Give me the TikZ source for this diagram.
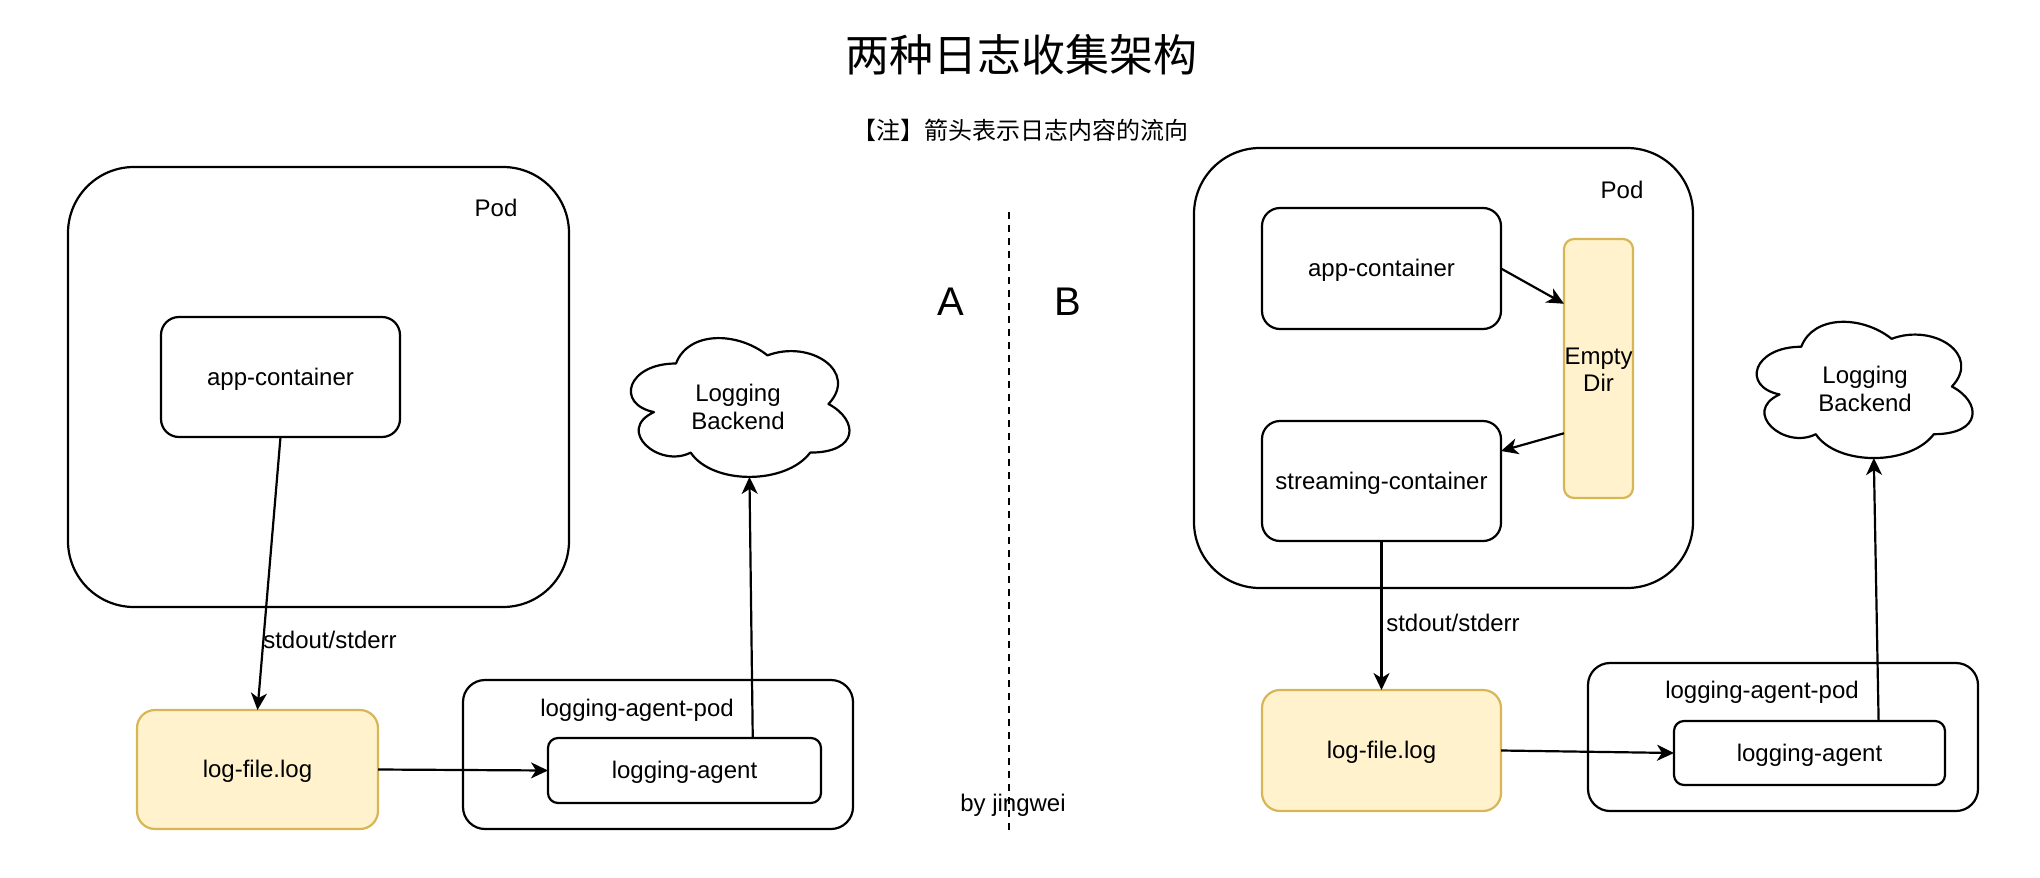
\documentclass[tikz,border=0pt]{standalone}
\usepackage{fontspec}
\setmainfont{Liberation Sans}
\newfontfamily\cjk{Noto Sans CJK SC}
\usetikzlibrary{arrows.meta,calc}
\definecolor{noteFill}{HTML}{FFF2CC}
\definecolor{noteLine}{HTML}{D6B656}
\tikzset{
  base/.style={line width=2.2pt, inner sep=0pt, outer sep=0pt, font=\fontsize{24}{28}\selectfont},
  oneline/.style={text height=21.7pt, text depth=5.1pt},
  podbox/.style={base, draw, rounded corners=66pt},
  cbox/.style={base, oneline, draw, rounded corners=18pt, align=center},
  filebox/.style={base, oneline, draw=noteLine, fill=noteFill, rounded corners=18pt, align=center},
  dirbox/.style={base, draw=noteLine, fill=noteFill, rounded corners=10pt},
  agentpodbox/.style={base, draw, rounded corners=22pt},
  agentbox/.style={base, oneline, draw, rounded corners=10pt, align=center},
  lbl/.style={inner sep=0pt, font=\fontsize{24}{28}\selectfont, align=center},
  flow/.style={line width=2.2pt, -{Stealth[length=17pt,width=16pt,inset=5pt]}},
  cloudline/.style={line width=2.2pt, line join=round},
}
\begin{document}
\begin{tikzpicture}[x=1pt,y=-1pt]
\useasboundingbox (0,0) rectangle (2040,878);

% titles
\node[inner sep=0pt, font=\cjk\fontsize{44}{50}\selectfont] (title) at (1021,55) {两种日志收集架构};
\node[inner sep=0pt, font=\cjk\fontsize{24}{28}\selectfont] (note) at (1020,130) {【注】箭头表示日志内容的流向};
\node[inner sep=0pt, font=\fontsize{40}{44}\selectfont] (labA) at (951,302) {A};
\node[inner sep=0pt, font=\fontsize{40}{44}\selectfont] (labB) at (1068,302) {B};

% divider
\coordinate (dtop) at (1009,212);
\coordinate (dbot) at (1009,830);
\draw[line width=2pt, dash pattern=on 7pt off 6pt] (dtop) -- (dbot);
\node[lbl] (by) at (1013,805) {by jingwei};

% ===== A =====
\node[podbox, minimum width=501pt, minimum height=440pt] (podA) at (318.5,387) {};
\node[lbl] (podAl) at (496,208) {Pod};
\node[cbox, minimum width=239pt, minimum height=120pt] (appA) at (280.5,377) {app-container};
\node[filebox, minimum width=241pt, minimum height=119pt] (logA) at (257.5,769.5) {log-file.log};
\node[agentpodbox, minimum width=390pt, minimum height=149pt] (apodA) at (658,754.5) {};
\node[lbl] (apodAl) at (637,710) {logging-agent-pod};
\node[agentbox, minimum width=273pt, minimum height=65pt] (agentA) at (684.5,770.5) {logging-agent};
\begin{scope}[shift={(615,323)}, xscale=2.44, yscale=1.62]
  \draw[cloudline] (25,25) .. controls (5,25) and (0,50) .. (16,55)
    .. controls (0,66) and (18,90) .. (31,80)
    .. controls (40,100) and (70,100) .. (80,80)
    .. controls (100,80) and (100,60) .. (87.5,50)
    .. controls (100,30) and (80,10) .. (62.5,20)
    .. controls (50,5) and (30,5) .. (25,25) -- cycle;
  \coordinate (cloudAbot) at (55.1,95);
  \node[lbl] (cloudA) at (50.4,51.8) {Logging\\Backend};
\end{scope}
\draw[flow] (appA.south) -- (logA.north);
\node[lbl] (stdA) at (330,640) {stdout/stderr};
\draw[flow] (logA.east) -- (agentA.west);
\draw[flow] ($(agentA.north west)!0.75!(agentA.north east)$) -- (cloudAbot);

% ===== B =====
\node[podbox, minimum width=499pt, minimum height=440pt] (podB) at (1443.5,368) {};
\node[lbl] (podBl) at (1622,190) {Pod};
\node[cbox, minimum width=239pt, minimum height=121pt] (appB) at (1381.5,268.5) {app-container};
\node[dirbox, minimum width=69pt, minimum height=259pt] (empty) at (1598.5,368.5) {};
\node[lbl, font=\fontsize{24}{27}\selectfont] (emptyl) at (1598.5,370) {Empty\\Dir};
\node[cbox, minimum width=239pt, minimum height=120pt] (streamB) at (1381.5,481) {streaming-container};
\node[filebox, minimum width=239pt, minimum height=121pt] (logB) at (1381.5,750.5) {log-file.log};
\node[agentpodbox, minimum width=390pt, minimum height=148pt] (apodB) at (1783,737) {};
\node[lbl] (apodBl) at (1762,692) {logging-agent-pod};
\node[agentbox, minimum width=271pt, minimum height=64pt] (agentB) at (1809.5,753) {logging-agent};
\begin{scope}[shift={(1741,307)}, xscale=2.41, yscale=1.59]
  \draw[cloudline] (25,25) .. controls (5,25) and (0,50) .. (16,55)
    .. controls (0,66) and (18,90) .. (31,80)
    .. controls (40,100) and (70,100) .. (80,80)
    .. controls (100,80) and (100,60) .. (87.5,50)
    .. controls (100,30) and (80,10) .. (62.5,20)
    .. controls (50,5) and (30,5) .. (25,25) -- cycle;
  \coordinate (cloudBbot) at (55.1,95);
  \node[lbl] (cloudB) at (51.5,51.5) {Logging\\Backend};
\end{scope}
\draw[flow] (appB.east) -- ($(empty.north west)!0.25!(empty.south west)$);
\draw[flow] ($(empty.north west)!0.75!(empty.south west)$) -- ($(streamB.north east)!0.25!(streamB.south east)$);
\draw[flow] (streamB.south) -- (logB.north);
\node[lbl] (stdB) at (1453,623) {stdout/stderr};
\draw[flow] (logB.east) -- (agentB.west);
\draw[flow] ($(agentB.north west)!0.755!(agentB.north east)$) -- (cloudBbot);
\end{tikzpicture}
\end{document}
